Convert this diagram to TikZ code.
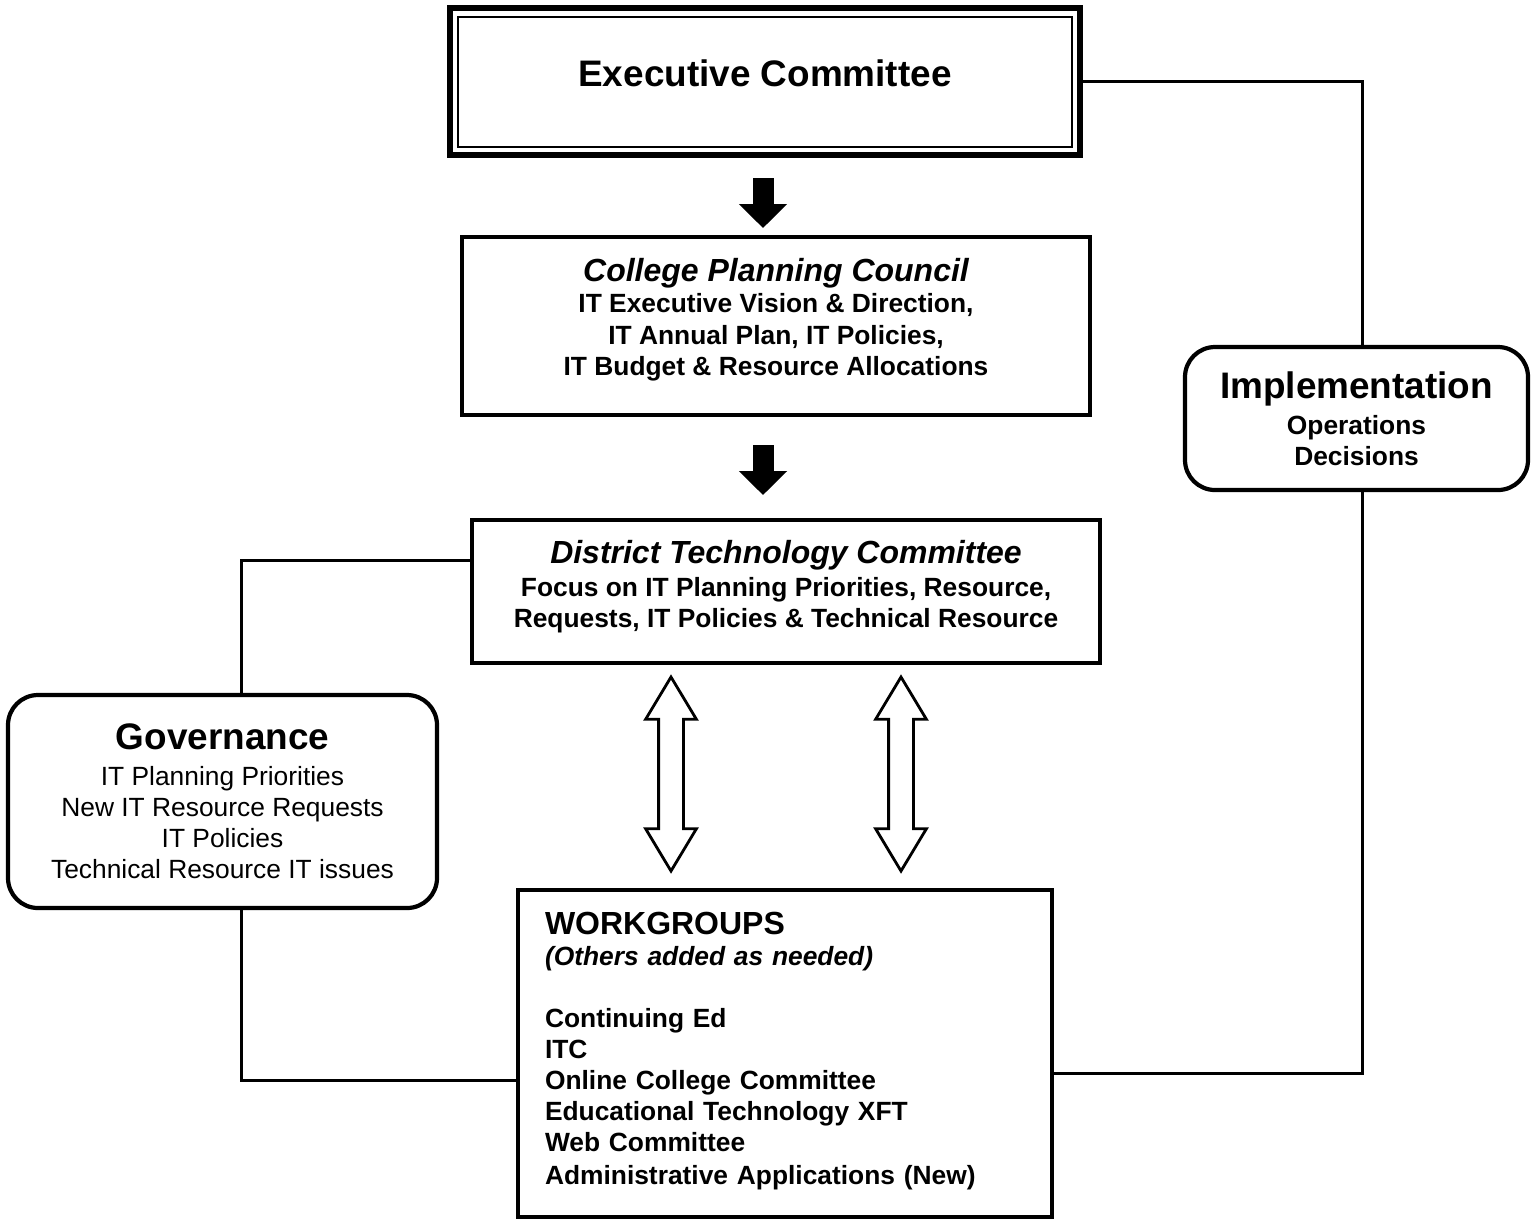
\documentclass[tikz,border=0pt]{standalone}
\usepackage{fontspec}
\setmainfont{Liberation Sans}
\usetikzlibrary{arrows.meta,shapes.arrows}
\tikzset{
	box/.style = {draw, line width=1.2pt, outer sep=0pt, inner sep=0pt, align=center,
		font=\fontsize{7.5}{8.8}\selectfont\bfseries},
	roundbox/.style = {box, rounded corners=0.3cm},
	link/.style = {line width=0.6pt},
	downarrow/.style = {line width=0.21cm, -{Triangle[length=0.24cm,width=0.47cm]}},
	twoway/.style = {double arrow, draw, line width=0.8pt, rotate=90, inner xsep=0pt, inner ysep=0.11cm,
		minimum height=1.94cm, minimum width=0.48cm,
		double arrow head extend=0.13cm, double arrow tip angle=62}
}
\newcommand{\bigtitle}{\fontsize{10.5}{12}\selectfont\bfseries}
\newcommand{\midtitle}{\fontsize{9.1}{10}\selectfont\bfseries\itshape}

\begin{document}
\begin{tikzpicture}
	\useasboundingbox (0,0) rectangle (15.36,-12.2);
	% boxes
	\node [box, line width=1.8pt, minimum width=6.3cm, minimum height=1.47cm] (exec) at (7.65,-0.815)
		{\raisebox{0.16cm}{\bigtitle Executive Committee}};
	\draw [line width=0.5pt] ([shift={(0.08,-0.09)}]exec.north west) rectangle ([shift={(-0.08,0.08)}]exec.south east);
	\node [box, minimum width=6.28cm, minimum height=1.78cm] (cpc) at (7.76,-3.26)
		{{\midtitle College Planning Council}\\[0pt]
		IT Executive Vision \& Direction,\\[0.2pt]
		IT Annual Plan, IT Policies,\\[0.2pt]
		IT Budget \& Resource Allocations\rule[-0.18cm]{0pt}{0pt}};
	\node [box, minimum width=6.28cm, minimum height=1.43cm] (dtc) at (7.86,-5.915)
		{{\midtitle District Technology Committee}\\[0.4pt]
		Focus on IT Planning Priorities, Resource,\\
		Requests, IT Policies \& Technical Resource\rule[-0.15cm]{0pt}{0pt}};
	\node [box, align=left, text width=4.8cm, inner xsep=0.27cm, minimum height=3.27cm] (wg) at (7.85,-10.535)
		{{\fontsize{9.1}{10}\selectfont WORKGROUPS}\\[0.2pt]
		\textit{(Others added as needed)}\\[8.8pt]
		Continuing Ed\\
		ITC\\
		Online College Committee\\
		Educational Technology XFT\\
		Web Committee\\[0.6pt]
		Administrative Applications (New)\rule[-0.11cm]{0pt}{0pt}};
	\node [roundbox, font=\fontsize{7.5}{8.8}\selectfont, minimum width=4.29cm, minimum height=2.13cm] (gov) at (2.225,-8.015)
		{{\bigtitle Governance}\\[1.5pt]
		IT Planning Priorities\\
		New IT Resource Requests\\
		IT Policies\\
		Technical Resource IT issues};
	\node [roundbox, minimum width=3.43cm, minimum height=1.43cm] (impl) at (13.565,-4.185)
		{{\bigtitle Implementation}\\[1.5pt]
		Operations\\
		Decisions};
	% arrows
	\draw [downarrow, shorten <=0.23cm, shorten >=0.09cm] ([xshift=-0.02cm]exec.south) -- ([xshift=-0.02cm]exec.south |- cpc.north);
	\draw [downarrow, shorten <=0.30cm, shorten >=0.25cm] ([xshift=-0.02cm]exec.south |- cpc.south) -- ([xshift=-0.02cm]exec.south |- dtc.north);
	\node [twoway] (up1) at (6.71,-7.74) {};
	\node [twoway] (up2) at (9.01,-7.74) {};
	% connectors
	\draw [link] (exec.east) -| ([xshift=0.06cm]impl.north);
	\draw [link] ([xshift=0.06cm]impl.south) |- ([yshift=-0.2cm]wg.east);
	\draw [link] ([yshift=0.31cm]dtc.west) -| ([xshift=0.19cm]gov.north);
	\draw [link] ([xshift=0.19cm]gov.south) |- ([yshift=-0.27cm]wg.west);
\end{tikzpicture}
\end{document}
